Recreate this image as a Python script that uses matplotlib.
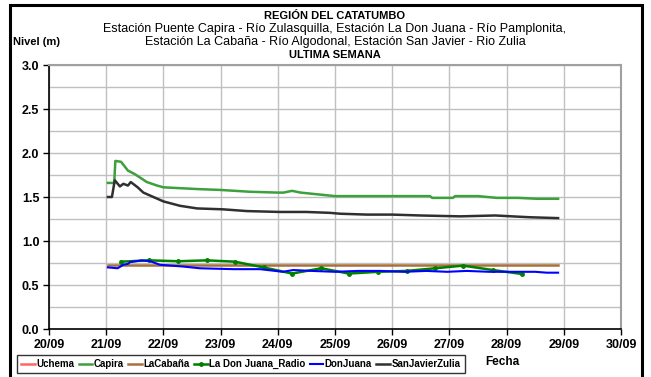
import matplotlib.pyplot as plt
from matplotlib.patches import Rectangle
from matplotlib.ticker import MultipleLocator

plt.rcParams["font.family"] = ["Liberation Sans", "DejaVu Sans"]

# days of September (fractional)
capira_t = [21.03, 21.14, 21.16, 21.26, 21.38, 21.5, 21.71, 21.89, 22.0, 22.3, 22.6,
            23.0, 23.5, 24.0, 24.1, 24.25, 24.4, 25.0, 26.0, 26.66, 26.7, 27.06,
            27.1, 27.5, 27.83, 28.2, 28.53, 28.9]
capira_v = [1.66, 1.66, 1.91, 1.90, 1.80, 1.76, 1.67, 1.63, 1.61, 1.60, 1.59,
            1.58, 1.56, 1.55, 1.55, 1.57, 1.55, 1.51, 1.51, 1.51, 1.49, 1.49,
            1.51, 1.51, 1.49, 1.49, 1.48, 1.48]

sanjavier_t = [21.03, 21.1, 21.15, 21.24, 21.3, 21.38, 21.43, 21.55, 21.65, 22.0,
               22.29, 22.59, 23.04, 23.46, 24.04, 24.5, 24.91, 25.09, 25.56, 26.0,
               26.49, 27.19, 27.8, 28.4, 28.9]
sanjavier_v = [1.50, 1.50, 1.69, 1.62, 1.65, 1.63, 1.67, 1.61, 1.55, 1.45,
               1.40, 1.37, 1.36, 1.34, 1.33, 1.33, 1.32, 1.31, 1.30, 1.30,
               1.29, 1.28, 1.29, 1.27, 1.26]

donjuana_t = [21.03, 21.2, 21.3, 21.38, 21.42, 21.62, 21.77, 21.94, 22.34, 22.64,
              23.22, 23.69, 24.09, 24.27, 24.6, 25.0, 25.4, 25.8, 26.2, 26.6,
              26.96, 27.3, 27.7, 28.1, 28.5, 28.7, 28.9]
donjuana_v = [0.70, 0.69, 0.73, 0.74, 0.76, 0.78, 0.77, 0.73, 0.71, 0.69,
              0.68, 0.68, 0.65, 0.67, 0.66, 0.65, 0.66, 0.66, 0.65, 0.66,
              0.65, 0.66, 0.65, 0.65, 0.65, 0.64, 0.64]

radio_t = [21.26, 21.75, 22.26, 22.76, 23.25, 23.75, 24.25, 24.76, 25.24, 25.75,
           26.25, 26.75, 27.24, 27.76, 28.27]
radio_v = [0.765, 0.78, 0.77, 0.78, 0.765, 0.70, 0.63, 0.69, 0.63, 0.65,
           0.66, 0.69, 0.72, 0.67, 0.625]

cabana_t = [21.03, 28.9]
cabana_v = [0.73, 0.73]

uchema_t = []
uchema_v = []

days = list(range(20, 31))
day_labels = [f"{d}/09" for d in days]

fig = plt.figure(figsize=(6.51, 3.77), dpi=100)
ax = fig.add_axes([49 / 651, 1 - 329 / 377, 572 / 651, 264 / 377])

lw = 1.8
ax.plot(uchema_t, uchema_v, color="#ff6666", lw=lw, label="Uchema")
ax.plot(capira_t, capira_v, color="#3ca03c", lw=lw, label="Capira")
ax.plot(cabana_t, cabana_v, color="#a8703c", lw=lw, label="LaCabaña")
ax.plot(radio_t, radio_v, color="#008000", lw=lw, marker="o", ms=2.5,
        label="La Don Juana_Radio")
ax.plot(donjuana_t, donjuana_v, color="#0000ff", lw=lw - 0.3, label="DonJuana")
ax.plot(sanjavier_t, sanjavier_v, color="#303030", lw=lw, label="SanJavierZulia")

ax.set_xlim(20, 30)
ax.set_ylim(0, 3)
ax.set_xticks(days)
ax.set_xticklabels(day_labels)
ax.yaxis.set_major_locator(MultipleLocator(0.5))
ax.yaxis.set_minor_locator(MultipleLocator(0.25))
ax.yaxis.set_major_formatter(lambda v, p: f"{v:.1f}")
ax.grid(True, which="both", color="#c0c0c0", lw=1.0)
ax.set_axisbelow(True)
ax.tick_params(axis="both", which="major", length=4, width=1, labelsize=9, pad=3)
ax.tick_params(axis="y", which="minor", length=0)
for lab in ax.get_xticklabels() + ax.get_yticklabels():
    lab.set_fontweight("bold")
ax.tick_params(axis="x", pad=3)
for s in ("left", "bottom"):
    ax.spines[s].set_color("black")
    ax.spines[s].set_linewidth(1.2)
for s in ("top", "right"):
    ax.spines[s].set_color("#a0a0a0")
    ax.spines[s].set_linewidth(1.5)

# outer frame
fig.patches.append(Rectangle((10 / 651, -0.05), 632 / 651, 1 - 5 / 377 + 0.05,
                             transform=fig.transFigure, fill=False,
                             edgecolor="black", lw=2.2))

cx = 335 / 651
fig.text(cx, 1 - 16 / 377, "REGIÓN DEL CATATUMBO", ha="center", va="center",
         fontsize=8, fontweight="bold")
fig.text(cx, 1 - 29 / 377,
         "Estación Puente Capira - Río Zulasquilla, Estación La Don Juana - Río Pamplonita,",
         ha="center", va="center", fontsize=9)
fig.text(cx, 1 - 42 / 377,
         "Estación La Cabaña - Río Algodonal, Estación San Javier - Rio Zulia",
         ha="center", va="center", fontsize=9)
fig.text(cx, 1 - 55 / 377, "ULTIMA SEMANA", ha="center", va="center",
         fontsize=8, fontweight="bold")
fig.text(13 / 651, 1 - 42 / 377, "Nivel (m)", ha="left", va="center",
         fontsize=8, fontweight="bold")
fig.text(485 / 651, 1 - 362 / 377, "Fecha", ha="left", va="center",
         fontsize=8.5, fontweight="bold")

leg = fig.legend(loc="center left", bbox_to_anchor=(17 / 651, 1 - 364 / 377),
                 ncol=6, fontsize=7.0, frameon=True, fancybox=False,
                 edgecolor="black", handlelength=1.4, handletextpad=0.15,
                 columnspacing=0.45, borderpad=0.45, borderaxespad=0)
leg.get_frame().set_linewidth(1.0)
for t in leg.get_texts():
    t.set_fontweight("bold")

fig.savefig("out.png", dpi=100)
